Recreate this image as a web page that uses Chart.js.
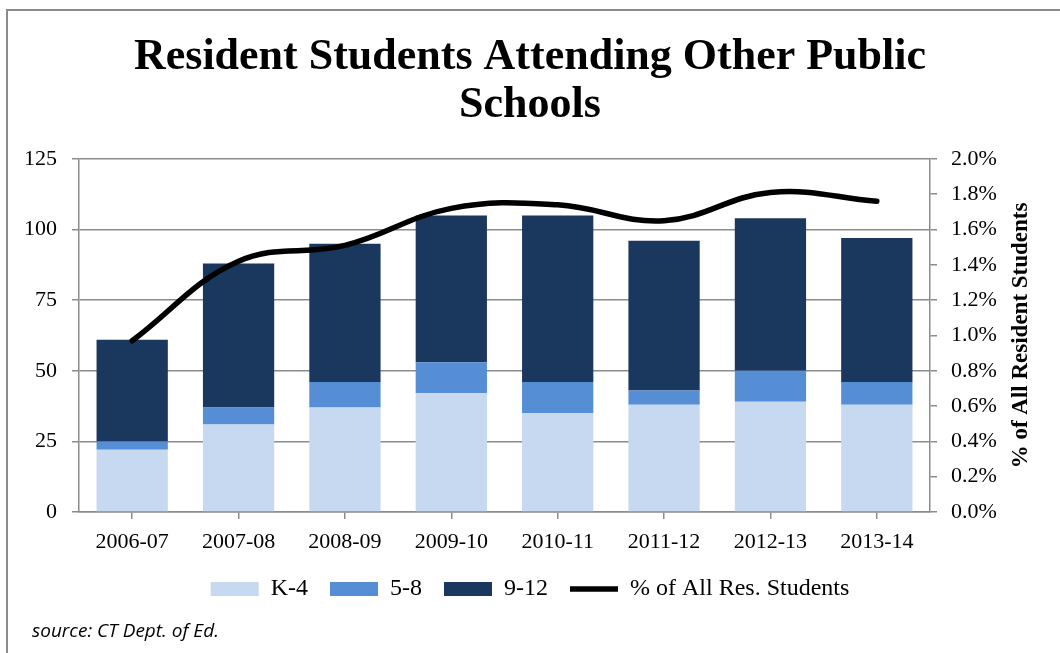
<!DOCTYPE html>
<html>
<head>
<meta charset="utf-8">
<script src="https://cdn.jsdelivr.net/npm/chart.js@4.4.1/dist/chart.umd.min.js"></script>
<style>
  html, body { margin: 0; padding: 0; background: #fff; }
  #wrap { position: relative; width: 1060px; height: 653px; }
  #frame { position: absolute; left: 6px; top: 9px; right: -10px; bottom: -10px;
           border-left: 2px solid #8c8c8c; border-top: 2px solid #8c8c8c; pointer-events: none; }
  #source { position: absolute; left: 32px; top: 617px; font-family: "Open Sans", sans-serif;
            font-style: italic; font-size: 19px; color: #000; line-height: 26px; }
  canvas { position: absolute; left: 0; top: 0; }
</style>
</head>
<body>
<div id="wrap">
  <canvas id="c" width="1060" height="653"></canvas>
  <div id="frame"></div>
  <div id="source">source: CT Dept. of Ed.</div>
</div>
<script>
const categories = ['2006-07','2007-08','2008-09','2009-10','2010-11','2011-12','2012-13','2013-14'];
const k4    = [22, 31, 37, 42, 35, 38, 39, 38];
const g58   = [3, 6, 9, 11, 11, 5, 11, 8];
const g912  = [36, 51, 49, 52, 59, 53, 54, 51];
const pctAll = [0.97, 1.42, 1.51, 1.72, 1.74, 1.65, 1.81, 1.76];
const titleLines = ['Resident Students Attending Other Public', 'Schools'];
const rightAxisTitle = '% of All Resident Students';

const serif = '"Liberation Serif", "Times New Roman", serif';
const gridColor = '#8c8c8c';

// Right axis title drawn reading bottom-to-top, as in the reference
const rightTitlePlugin = {
  id: 'rightTitle',
  afterDraw(chart) {
    const area = chart.chartArea;
    const ctx = chart.ctx;
    ctx.save();
    ctx.translate(1021, (area.top + area.bottom) / 2);
    ctx.rotate(-Math.PI / 2);
    ctx.font = 'bold 23px ' + serif;
    ctx.fillStyle = '#000';
    ctx.textAlign = 'center';
    ctx.textBaseline = 'middle';
    ctx.fillText(rightAxisTitle, 0, 0);
    ctx.restore();
  }
};

new Chart(document.getElementById('c'), {
  type: 'bar',
  data: {
    labels: categories,
    datasets: [
      { label: 'K-4', data: k4, backgroundColor: '#C6D9F0', yAxisID: 'y', order: 1, pointStyle: 'rect', borderWidth: 0 },
      { label: '5-8', data: g58, backgroundColor: '#558ED5', yAxisID: 'y', order: 1, pointStyle: 'rect', borderWidth: 0 },
      { label: '9-12', data: g912, backgroundColor: '#1A375E', yAxisID: 'y', order: 1, pointStyle: 'rect', borderWidth: 0 },
      { type: 'line', label: '% of All Res. Students', data: pctAll, yAxisID: 'y1', order: 0,
        borderColor: '#000', backgroundColor: '#000', borderWidth: 5.5, tension: 0.4,
        pointRadius: 0, pointStyle: 'line', borderCapStyle: 'round', fill: false }
    ]
  },
  options: {
    responsive: false,
    animation: false,
    devicePixelRatio: 1,
    layout: { padding: { top: 0, left: 0, right: 0, bottom: 42 } },
    datasets: { bar: { categoryPercentage: 1.0, barPercentage: 0.67 } },
    plugins: {
      tooltip: { enabled: false },
      title: {
        display: true, text: titleLines, color: '#000',
        font: { family: serif, size: 44, weight: 'bold', lineHeight: 1.09 },
        padding: { top: 34, bottom: 29 }
      },
      legend: {
        display: true, position: 'bottom',
        labels: {
          usePointStyle: true, pointStyleWidth: 48, boxHeight: 14, padding: 22,
          color: '#000', font: { family: serif, size: 24 },
          sort: (a, b) => a.datasetIndex - b.datasetIndex
        }
      }
    },
    scales: {
      x: {
        stacked: true,
        offset: true,
        grid: { display: true, drawOnChartArea: false, offset: false, tickLength: 7, color: gridColor, lineWidth: 1.5 },
        border: { display: true, color: gridColor, width: 1.5 },
        ticks: { color: '#000', font: { family: serif, size: 22 }, padding: 10, maxRotation: 0 },
        afterFit: (s) => { s.height = 43; }
      },
      y: {
        stacked: true, position: 'left', min: 0, max: 125,
        ticks: { stepSize: 25, color: '#000', font: { family: serif, size: 22 }, padding: 15 },
        grid: { color: gridColor, lineWidth: 1.5, tickLength: 7 },
        border: { display: true, color: gridColor, width: 1.5 },
        afterFit: (s) => { s.width = 79; }
      },
      y1: {
        position: 'right', min: 0, max: 2.0,
        ticks: { stepSize: 0.2, color: '#000', font: { family: serif, size: 22 }, padding: 14,
                 callback: (v) => v.toFixed(1) + '%' },
        grid: { drawOnChartArea: false, color: gridColor, lineWidth: 1.5, tickLength: 7 },
        border: { display: true, color: gridColor, width: 1.5 },
        title: { display: false },
        afterFit: (s) => { s.width = 130; }
      }
    }
  },
  plugins: [rightTitlePlugin]
});
</script>
</body>
</html>
